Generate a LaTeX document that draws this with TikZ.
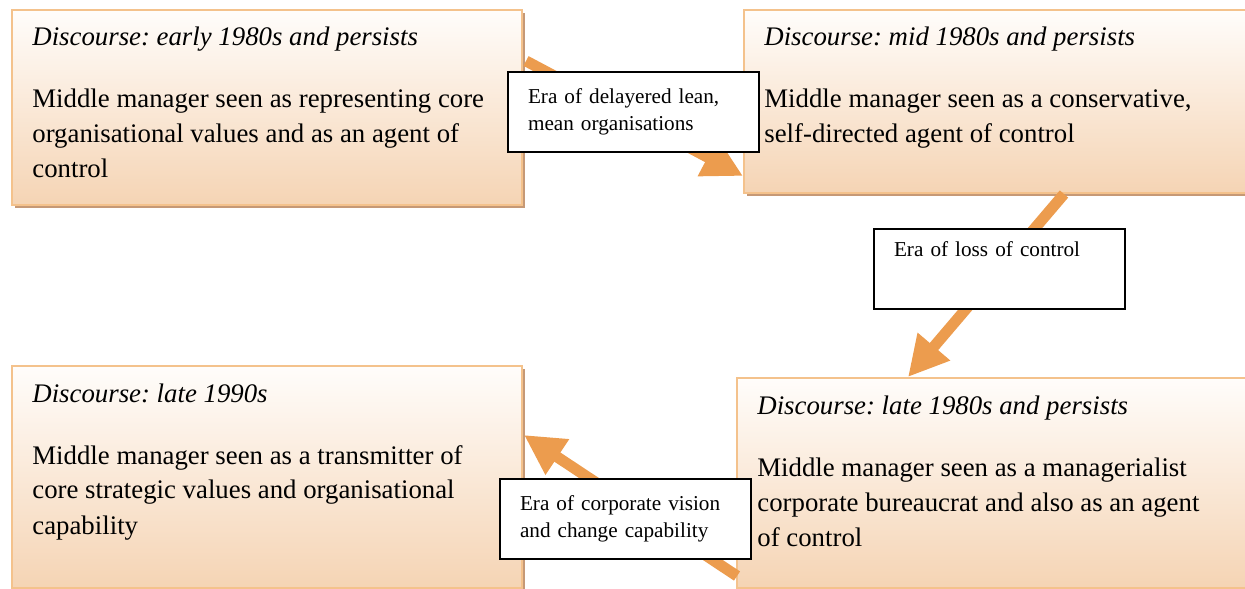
\documentclass[tikz,border=0pt]{standalone}
\usepackage{fontspec}
\setmainfont{Liberation Serif}
\usetikzlibrary{positioning,calc,arrows.meta,shadows}
\frenchspacing

\definecolor{boxedge}{RGB}{244,194,140}
\definecolor{boxtop}{RGB}{255,253,251}
\definecolor{boxbottom}{RGB}{245,212,180}
\definecolor{boxshade}{RGB}{198,153,118}
\definecolor{flowcol}{RGB}{236,156,78}

\tikzstyle{discbox} = [draw=boxedge, line width=1pt, top color=boxtop,
  bottom color=boxbottom, rectangle, anchor=north west, inner sep=0pt,
  general shadow={fill=boxshade, shadow xshift=1.5pt, shadow yshift=-1.5pt}]
\tikzstyle{disctext} = [align=left, inner sep=0pt,
  font=\fontsize{13.4}{17.5}\selectfont]
\tikzstyle{erabox} = [draw=black, line width=1pt, fill=white, rectangle,
  anchor=north west, minimum width=125.5pt, minimum height=40pt,
  text width=105.5pt, inner xsep=10pt, inner ysep=0pt, align=left,
  font=\fontsize{10.6}{13.5}\selectfont]
\tikzstyle{flow} = [draw=flowcol, line width=5.5pt,
  -{Triangle[length=20pt,width=20pt]}]

\begin{document}
\begin{tikzpicture}[x=0.5pt,y=-0.5pt]
        \useasboundingbox (0,0) rectangle (1245,588);
        \clip (0,0) rectangle (1245,588);

        \node [discbox, minimum width=255pt, minimum height=97.5pt] (early)    at (11,9)    {};
        \node [discbox, minimum width=260pt, minimum height=91.5pt] (mid)      at (743,9)   {};
        \node [discbox, minimum width=265pt, minimum height=105pt]  (late)     at (736,377) {};
        \node [discbox, minimum width=255pt, minimum height=111pt]  (nineties) at (11,365)  {};

        \node [disctext, below right=9pt and 10.5pt of early.north west] (earlytext)
          {\textit{Discourse: early 1980s and persists}\\[13.5pt]
           Middle manager seen as representing core\\
           organisational values and as an agent of\\
           control};
        \node [disctext, below right=9pt and 10.5pt of mid.north west] (midtext)
          {\textit{Discourse: mid 1980s and persists}\\[13.5pt]
           Middle manager seen as a conservative,\\
           self-directed agent of control};
        \node [disctext, below right=9pt and 10.5pt of late.north west] (latetext)
          {\textit{Discourse: late 1980s and persists}\\[13.5pt]
           Middle manager seen as a managerialist\\
           corporate bureaucrat and also as an agent\\
           of control};
        \node [disctext, below right=9pt and 10.5pt of nineties.north west] (ninetiestext)
          {\textit{Discourse: late 1990s}\\[13.5pt]
           Middle manager seen as a transmitter of\\
           core strategic values and organisational\\
           capability};

        \draw[flow] ($(early.north east)+(3,52)$) -- ($(mid.north west)+(0,167)$);
        \draw[flow] ($(mid.south west)+(321,0)$) -- ($(late.north west)+(172,0)$);
        \draw[flow] ($(late.south west)+(1,-13)$) -- ($(nineties.north east)+(1,70)$);

        \node [erabox] (eralean)   at (507,71)  {Era of delayered lean,\\mean organisations};
        \node [erabox] (eraloss)   at (873,228) {Era of loss of control\\[6pt]\mbox{}};
        \node [erabox] (eravision) at (499,478) {Era of corporate vision\\and change capability};
      \end{tikzpicture}
\end{document}
